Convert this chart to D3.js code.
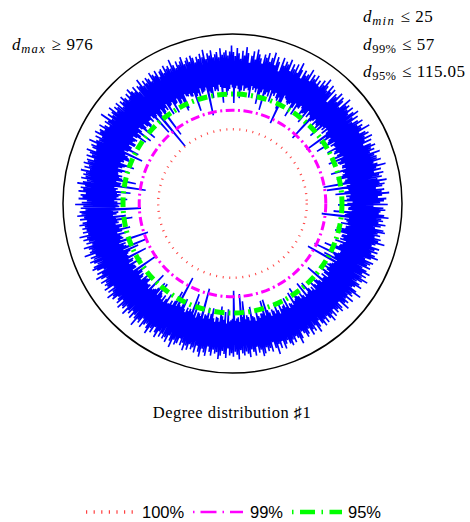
<!DOCTYPE html>
<html>
<head>
<meta charset="utf-8">
<script src="https://cdn.jsdelivr.net/npm/d3@7"></script>
<style>
  body { margin: 0; background: #ffffff; }
  svg { display: block; }
</style>
</head>
<body>
<svg id="chart" width="470" height="522"></svg>
<script>
// Node degrees, in node order (five blocks of 200 nodes).
const degreesA = [
  152,712,78,598,148,845,166,677,143,534,97,760,137,623,171,902,135,701,152,466,
  158,634,141,781,104,552,176,869,149,715,163,610,137,489,163,742,84,659,129,828,
  145,571,168,693,68,903,139,526,156,774,131,640,178,432,108,815,160,588,146,727,
  174,662,139,851,127,517,151,738,92,607,47,794,183,555,164,916,158,683,142,479,
  133,726,144,593,155,660,83,871,131,522,169,749,101,638,153,802,148,567,177,697,
  162,541,109,788,138,651,146,944,93,703,179,584,137,829,161,615,154,758,47,405,
  134,690,147,629,167,827,112,546,149,764,141,681,126,503,159,892,88,661,171,735,
  150,612,182,779,136,563,181,704,157,858,53,598,142,745,99,523,165,668,144,810,
  135,587,74,722,173,649,138,931,157,538,161,696,106,778,153,615,140,843,134,570,
  167,753,146,498,105,685,184,812,91,642,157,729,132,577,140,880,175,664,151,721
];
const degreesB = [
  148,704,170,826,86,579,145,676,155,951,137,613,128,742,103,535,163,797,146,648,
  139,719,55,584,176,863,149,627,62,771,156,690,158,516,131,738,88,655,169,904,
  139,662,160,547,143,788,115,709,182,602,145,836,97,451,167,694,154,759,152,617,
  178,575,81,732,143,891,133,654,49,716,163,590,134,811,147,669,157,528,119,773,
  166,838,150,619,150,703,103,561,129,752,99,684,172,925,141,634,138,547,154,786,
  135,651,179,770,113,596,161,723,148,859,144,642,127,508,77,764,170,689,168,614,
  156,741,52,531,136,675,147,818,91,597,175,746,43,633,164,882,152,706,140,570,
  130,687,151,799,108,613,144,554,168,728,104,961,142,647,183,712,136,584,160,835,
  159,602,73,740,173,665,148,873,133,526,117,705,162,789,146,641,110,717,177,556,
  143,763,165,627,137,846,96,690,155,579,162,754,86,612,170,795,149,672,128,538
];
const degreesC = [
  161,708,138,865,131,593,84,737,142,651,150,812,95,569,167,698,151,774,145,620,
  176,547,106,726,158,893,134,660,141,585,155,749,119,637,182,803,153,714,107,591,
  168,681,145,822,134,566,174,755,147,612,129,937,79,699,159,523,81,781,140,648,
  137,730,163,602,150,776,114,859,179,634,152,712,143,544,94,792,169,663,144,587,
  132,819,156,695,71,628,139,741,51,672,171,580,139,863,147,707,162,618,44,768,
  148,655,158,726,166,538,98,811,183,689,111,604,157,748,135,872,89,653,174,701,
  149,593,143,784,178,673,154,541,101,827,130,719,163,622,102,896,146,735,141,574,
  171,797,46,646,159,716,144,589,140,772,181,655,90,838,165,611,66,704,150,529,
  136,682,155,753,136,624,172,908,153,697,98,566,128,801,149,667,142,740,39,613,
  160,739,82,596,133,829,167,685,142,553,170,762,175,641,116,887,153,718,183,606
];
const degreesD = [
  138,672,176,814,152,548,140,733,90,656,169,949,93,702,129,621,145,788,152,574,
  163,706,75,637,181,851,149,598,157,724,158,679,117,823,134,561,140,741,109,652,
  173,592,146,769,135,698,161,886,131,627,102,745,152,533,54,807,180,665,146,716,
  148,638,154,783,101,572,177,704,143,862,136,615,165,747,69,526,155,690,160,832,
  147,751,130,604,87,685,170,798,57,649,141,727,156,563,139,904,182,692,48,618,
  166,687,142,839,150,560,157,712,113,623,174,781,137,654,95,892,151,596,132,740,
  130,619,172,736,148,651,156,817,80,702,164,577,105,768,183,639,155,855,143,706,
  179,763,53,590,160,721,135,643,145,916,107,688,147,552,168,792,96,669,153,729,
  141,584,129,808,152,663,85,747,162,620,150,883,176,701,45,594,138,775,134,647,
  168,726,72,657,133,839,155,571,137,745,165,618,171,805,144,686,108,728,181,543
];
const degreesE = [
  152,781,139,627,93,712,175,849,154,565,159,694,106,758,131,612,143,896,165,670,
  76,603,183,747,156,569,99,835,145,680,146,724,171,596,135,811,134,655,161,539,
  151,718,140,642,178,976,153,587,100,763,136,631,167,708,87,868,149,596,184,741,
  158,661,83,784,142,557,172,719,144,643,112,806,130,684,162,579,160,752,138,625,
  176,835,150,690,63,614,148,771,163,545,25,703,129,652,141,879,170,598,42,727,
  135,612,157,753,137,681,180,568,103,829,148,714,153,645,168,787,97,560,141,699,
  145,743,173,588,119,807,132,667,155,734,86,621,94,911,177,684,157,575,151,760,
  166,629,143,716,140,842,161,593,70,678,134,755,149,610,115,789,181,697,139,554,
  147,701,154,621,174,768,50,645,142,888,130,579,104,732,167,660,138,819,147,596,
  135,674,179,737,160,582,80,853,152,640,152,706,110,768,133,613,143,725,172,941
];

// Reference levels (share of nodes at or above each degree).
const levelNames = ["100%", "99%", "95%"];
const levelDegrees = [25, 57, 115.05];

// Summary labels.
const maxDegreeLabel = "976";
const statSubscripts = ["min", "99%", "95%"];
const statValues = ["25", "57", "115.05"];
const titleText = "Degree distribution \u266F1";

// Radial axis (log) upper bound, shown by the outer ring.
const axisDegreeMax = 1550;

// ---------------------------------------------------------------
const degrees = [].concat(degreesA, degreesB, degreesC, degreesD, degreesE);
const N = degrees.length;

const svg = d3.select("#chart");
const cx = 232.5, cy = 203.5, outerR = 169.5;

const rScale = d3.scaleLog().domain([1, axisDegreeMax]).range([0, outerR]);
const aScale = d3.scaleLinear().domain([0, N]).range([0, 2 * Math.PI]);

const plot = svg.append("g").attr("transform", `translate(${cx},${cy})`);

// degree trace, one vertex per node
plot.append("path")
  .datum(degrees)
  .attr("d", d3.lineRadial()
    .angle((d, i) => aScale(i))
    .radius(d => rScale(d))
    .curve(d3.curveLinearClosed))
  .attr("fill", "none")
  .attr("stroke", "#0000ff")
  .attr("stroke-width", 1.6)
  .attr("stroke-linejoin", "bevel");

// line styles for the reference levels
const levelStyle = [
  { color: "#ff2020", width: 2.4, dash: "1,5.6",       legendDash: "1.2,6.4",        opacity: 0.85 },
  { color: "#ff00ff", width: 3,   dash: "9,3.5,2,3.5", legendDash: "1.5,6,16,6",     opacity: 1 },
  { color: "#00ff00", width: 5,   dash: "10,4,2,4",    legendDash: "1.5,6.5,15,6.5", opacity: 1 }
];

plot.selectAll("circle.level")
  .data(levelDegrees)
  .join("circle")
  .attr("class", "level")
  .attr("r", d => rScale(d))
  .attr("fill", "none")
  .attr("stroke", (d, i) => levelStyle[i].color)
  .attr("stroke-width", (d, i) => levelStyle[i].width)
  .attr("stroke-dasharray", (d, i) => levelStyle[i].dash)
  .attr("stroke-opacity", (d, i) => levelStyle[i].opacity);

// outer ring
plot.append("circle")
  .attr("r", outerR)
  .attr("fill", "none")
  .attr("stroke", "#000")
  .attr("stroke-width", 1.5);

// ---------------------------------------------------------------
// math-style labels: d_{sub} rel value
const serif = "'Liberation Serif', 'DejaVu Serif', serif";
function mathLabel(x, y, sub, subItalic, rel, value) {
  const t = svg.append("text")
    .attr("x", x).attr("y", y)
    .attr("font-family", serif)
    .attr("font-size", 17)
    .attr("fill", "#000");
  t.append("tspan").attr("font-style", "italic").text("d");
  t.append("tspan")
    .attr("font-size", 12.5)
    .attr("dx", 0.8)
    .attr("dy", 3.2)
    .attr("letter-spacing", subItalic ? 1.3 : 0.4)
    .attr("font-style", subItalic ? "italic" : "normal")
    .text(sub);
  t.append("tspan").attr("dx", 5.5).attr("dy", -3.2).text(rel);
  t.append("tspan").attr("dx", 5.5).attr("letter-spacing", 0.4).text(value);
}

mathLabel(12, 50, "max", true, "\u2265", maxDegreeLabel);

const statRows = [22, 50, 77];
statSubscripts.forEach((s, i) => {
  mathLabel(363, statRows[i], s, i === 0, "\u2264", statValues[i]);
});

// title under the plot
svg.append("text")
  .attr("x", 232).attr("y", 418)
  .attr("text-anchor", "middle")
  .attr("font-family", serif)
  .attr("font-size", 16.5)
  .attr("letter-spacing", 0.45)
  .attr("fill", "#000")
  .text(titleText);

// legend
const legendY = 512;
const legendItems = [
  { x0: 86,  x1: 133, tx: 142 },
  { x0: 193, x1: 243, tx: 250 },
  { x0: 292, x1: 342, tx: 348 }
];
const legend = svg.append("g");
levelNames.forEach((name, i) => {
  const p = legendItems[i], s = levelStyle[i];
  legend.append("line")
    .attr("x1", p.x0).attr("x2", p.x1)
    .attr("y1", legendY).attr("y2", legendY)
    .attr("stroke", s.color)
    .attr("stroke-width", i === 0 ? 3.5 : s.width - 0.5)
    .attr("stroke-dasharray", s.legendDash)
    .attr("stroke-opacity", s.opacity);
  legend.append("text")
    .attr("x", p.tx).attr("y", legendY + 6)
    .attr("font-family", "'Liberation Sans', Arial, sans-serif")
    .attr("font-size", 16.5)
    .attr("fill", "#000")
    .text(name);
});
</script>
</body>
</html>
